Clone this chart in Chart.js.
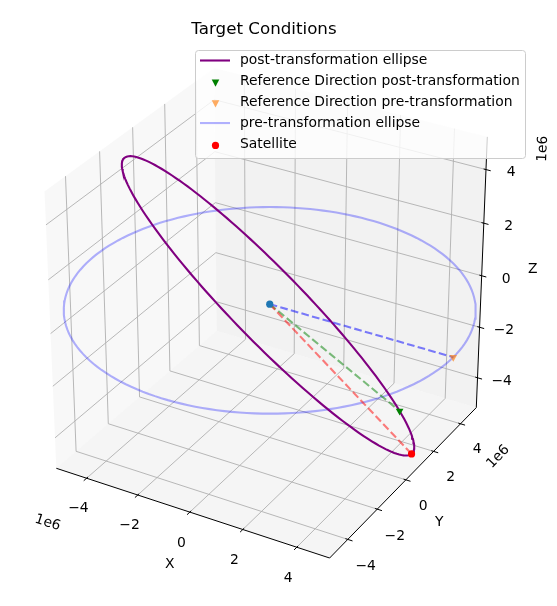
<!DOCTYPE html>
<html>
<head>
<meta charset="utf-8">
<title>Target Conditions</title>
<script src="https://cdn.jsdelivr.net/npm/chart.js@4.4.1/dist/chart.umd.min.js"></script>
<style>
  html, body { margin: 0; padding: 0; background: #ffffff; }
  #wrap { width: 557px; height: 606px; }
</style>
</head>
<body>
<div id="wrap"><canvas id="orbitChart" width="557" height="606"></canvas></div>
<script>
// ---- values ----
const chartTitle = 'Target Conditions';
const axisNames = ['X', 'Y', 'Z'];
const axisRange = [-5.2e6, 5.2e6];          // drawn box, same on X, Y and Z
const tickValues = [-4e6, -2e6, 0, 2e6, 4e6];
const tickLabels = ['−4', '−2', '0', '2', '4'];
const offsetLabel = '1e6';

const orbitRadius = 6.778e6;                // both ellipses (m)
const preOrbit = [0, 0];                    // [inclination, RAAN] (deg)
const postOrbit = [47, 135.5];              // [inclination, RAAN] (deg)

const centerPoint = [0, 0, 0];
const preRefArg = 0;                        // argument of latitude of each marker (deg)
const postRefArg = 270.5;
const satelliteArg = 233;

const legendLabels = [
    'post-transformation ellipse',
    'Reference Direction post-transformation',
    'Reference Direction pre-transformation',
    'pre-transformation ellipse',
    'Satellite'
];

// ---- matplotlib-like 3D camera (elev 30, azim -60, perspective, cube box) ----
const DEG = Math.PI / 180;
const dot = (a, b) => a[0] * b[0] + a[1] * b[1] + a[2] * b[2];
const cross = (a, b) => [a[1] * b[2] - a[2] * b[1], a[2] * b[0] - a[0] * b[2], a[0] * b[1] - a[1] * b[0]];
const unit = a => { const l = Math.hypot(a[0], a[1], a[2]); return a.map(c => c / l); };

const viewW = [Math.cos(30 * DEG) * Math.cos(-60 * DEG), Math.cos(30 * DEG) * Math.sin(-60 * DEG), Math.sin(30 * DEG)];
const viewU = unit(cross([0, 0, 1], viewW));
const viewV = cross(viewW, viewU);
const boxHalf = 0.5281;
const viewDist = 10;

// 2D window of the projection that fills the canvas
const xWindow = [-0.08883, 0.09470];
const yWindow = [-0.09944, 0.10023];

function project(p) {
    const q = p.map(c => c / axisRange[1] * boxHalf);
    const d = viewDist - dot(viewW, q);
    return { x: dot(viewU, q) / d, y: dot(viewV, q) / d };
}

function orbitPoint(orbit, argDeg) {
    const inc = orbit[0] * DEG, raan = orbit[1] * DEG, t = argDeg * DEG;
    const e1 = [Math.cos(raan), Math.sin(raan), 0];
    const e2 = [-Math.cos(inc) * Math.sin(raan), Math.cos(inc) * Math.cos(raan), Math.sin(inc)];
    return [0, 1, 2].map(k => orbitRadius * (Math.cos(t) * e1[k] + Math.sin(t) * e2[k]));
}

const anomalies = [];
for (let a = 0; a <= 360; a += 2) anomalies.push(a);

const prePts = anomalies.map(a => project(orbitPoint(preOrbit, a)));
const postPts = anomalies.map(a => project(orbitPoint(postOrbit, a)));
const preRef = orbitPoint(preOrbit, preRefArg);
const postRef = orbitPoint(postOrbit, postRefArg);
const satellite = orbitPoint(postOrbit, satelliteArg);

const lo = axisRange[0], hi = axisRange[1];
const tickDelta = (hi - lo) / 12;

// ---- box, panes, grid, axis lines, ticks ----
function toPx(chart, p) {
    const s = project(p);
    return [chart.scales.x.getPixelForValue(s.x), chart.scales.y.getPixelForValue(s.y)];
}

function strokePath(ctx, chart, pts, color, width, fill) {
    ctx.beginPath();
    pts.forEach((p, k) => {
        const [px, py] = toPx(chart, p);
        if (k === 0) ctx.moveTo(px, py); else ctx.lineTo(px, py);
    });
    if (fill) {
        ctx.closePath();
        ctx.fillStyle = fill;
        ctx.fill();
    }
    if (color) {
        ctx.strokeStyle = color;
        ctx.lineWidth = width;
        ctx.stroke();
    }
}

const box3d = {
    id: 'box3d',
    beforeDatasetsDraw(chart) {
        const ctx = chart.ctx;
        ctx.save();
        // panes: x = min, y = max, z = min
        strokePath(ctx, chart, [[lo, lo, lo], [lo, hi, lo], [lo, hi, hi], [lo, lo, hi]], null, 0, 'rgba(242,242,242,0.5)');
        strokePath(ctx, chart, [[lo, hi, lo], [hi, hi, lo], [hi, hi, hi], [lo, hi, hi]], null, 0, 'rgba(230,230,230,0.5)');
        strokePath(ctx, chart, [[lo, lo, lo], [hi, lo, lo], [hi, hi, lo], [lo, hi, lo]], null, 0, 'rgba(236,236,236,0.5)');

        // grid lines
        const grid = 'rgb(176,176,176)';
        tickValues.forEach(t => {
            strokePath(ctx, chart, [[t, hi, hi], [t, hi, lo], [t, lo, lo]], grid, 0.9);
            strokePath(ctx, chart, [[lo, t, hi], [lo, t, lo], [hi, t, lo]], grid, 0.9);
            strokePath(ctx, chart, [[hi, hi, t], [lo, hi, t], [lo, lo, t]], grid, 0.9);
        });

        // axis lines
        strokePath(ctx, chart, [[lo, lo, lo], [hi, lo, lo]], '#000', 1);
        strokePath(ctx, chart, [[hi, lo, lo], [hi, hi, lo]], '#000', 1);
        strokePath(ctx, chart, [[hi, hi, lo], [hi, hi, hi]], '#000', 1);

        // tick marks
        const tin = 0.1 * tickDelta, tout = 0.2 * tickDelta;
        tickValues.forEach(t => {
            strokePath(ctx, chart, [[t, lo + tin, lo], [t, lo - tout, lo]], '#000', 1);
            strokePath(ctx, chart, [[hi - tin, t, lo], [hi + tout, t, lo]], '#000', 1);
            strokePath(ctx, chart, [[hi - tin, hi, t], [hi + tout, hi, t]], '#000', 1);
        });
        ctx.restore();
    }
};

// ---- texts: ticks, axis names, offsets, title, legend ----
function drawText(ctx, text, x, y, angle) {
    ctx.save();
    ctx.translate(x, y);
    if (angle) ctx.rotate(angle * DEG);
    ctx.fillText(text, 0, 0);
    ctx.restore();
}

function drawMarker(ctx, kind, x, y, color) {
    ctx.fillStyle = color;
    ctx.beginPath();
    if (kind === 'dot') {
        ctx.arc(x, y, 3.6, 0, 2 * Math.PI);
    } else {
        ctx.moveTo(x - 3.8, y - 3.4);
        ctx.lineTo(x + 3.8, y - 3.4);
        ctx.lineTo(x, y + 3.8);
        ctx.closePath();
    }
    ctx.fill();
}

const labels3d = {
    id: 'labels3d',
    afterDraw(chart) {
        const ctx = chart.ctx;
        ctx.save();
        ctx.fillStyle = '#000';
        ctx.font = '13.9px "DejaVu Sans"';
        ctx.textAlign = 'center';
        ctx.textBaseline = 'middle';

        tickValues.forEach((t, k) => {
            let p = toPx(chart, [t, lo - 0.545e6, lo - 0.888e6]);
            drawText(ctx, tickLabels[k], p[0], p[1]);
            p = toPx(chart, [hi + 0.667e6, t, lo - 0.823e6]);
            drawText(ctx, tickLabels[k], p[0], p[1]);
            p = toPx(chart, [hi + 0.809e6, hi + 0.22e6, t]);
            drawText(ctx, tickLabels[k], p[0], p[1]);
        });

        const m = 1.28e6;
        let p = toPx(chart, [0, lo - m, lo - m]);
        drawText(ctx, axisNames[0], p[0], p[1]);
        p = toPx(chart, [hi + m, 0, lo - m]);
        drawText(ctx, axisNames[1], p[0], p[1]);
        p = toPx(chart, [hi + m, hi + m, 0]);
        drawText(ctx, axisNames[2], p[0], p[1]);

        p = toPx(chart, [lo + 0.45e6, lo - m, lo - m]);
        drawText(ctx, offsetLabel, p[0], p[1], 18);
        p = toPx(chart, [hi + m, hi - 0.8e6, lo - 1.15e6]);
        drawText(ctx, offsetLabel, p[0], p[1], -46);
        p = toPx(chart, [hi + m, hi + m, hi - 0.6e6]);
        drawText(ctx, offsetLabel, p[0] + 4, p[1] + 2, -87.5);

        // title
        ctx.font = '16.7px "DejaVu Sans"';
        ctx.textBaseline = 'alphabetic';
        ctx.fillText(chartTitle, 264, 34);

        // legend
        const lx = 195, ly = 50, lw = 330, lh = 108;
        ctx.beginPath();
        ctx.roundRect(lx + 0.5, ly + 0.5, lw, lh, 3);
        ctx.fillStyle = 'rgba(255,255,255,0.8)';
        ctx.fill();
        ctx.strokeStyle = '#cccccc';
        ctx.lineWidth = 1;
        ctx.stroke();

        const handles = [
            ['line', 'purple'],
            ['tri', 'green'],
            ['tri', 'rgba(255,127,14,0.65)'],
            ['line', 'rgba(0,0,255,0.3)'],
            ['dot', 'red']
        ];
        ctx.font = '13.9px "DejaVu Sans"';
        ctx.textAlign = 'left';
        ctx.textBaseline = 'middle';
        legendLabels.forEach((text, k) => {
            const cy = 60.5 + k * 20.85;
            const [kind, color] = handles[k];
            if (kind === 'line') {
                ctx.beginPath();
                ctx.moveTo(200, cy);
                ctx.lineTo(230, cy);
                ctx.strokeStyle = color;
                ctx.lineWidth = 2.1;
                ctx.stroke();
            } else {
                drawMarker(ctx, kind, 215.5, cy + 1.5, color);
            }
            ctx.fillStyle = '#000';
            ctx.fillText(text, 240, cy);
        });
        ctx.restore();
    }
};

// ---- chart ----
const pt = p => project(p);
const dashed = [7.7, 3.3];

new Chart(document.getElementById('orbitChart').getContext('2d'), {
    type: 'scatter',
    data: {
        datasets: [
            {   // first dataset is drawn on top
                label: 'Satellite',
                data: [pt(satellite)],
                pointStyle: 'circle',
                pointRadius: 3.6,
                borderWidth: 0,
                backgroundColor: 'red'
            },
            {
                label: 'Reference Direction post-transformation',
                data: [pt(postRef)],
                pointStyle: 'triangle',
                rotation: 180,
                pointRadius: 4.4,
                borderWidth: 0,
                backgroundColor: 'green'
            },
            {
                label: 'Reference Direction pre-transformation',
                data: [pt(preRef)],
                pointStyle: 'triangle',
                rotation: 180,
                pointRadius: 4.4,
                borderWidth: 0,
                backgroundColor: 'rgba(255,127,14,0.65)'
            },
            {
                label: 'center',
                data: [pt(centerPoint)],
                pointStyle: 'circle',
                pointRadius: 3.6,
                borderWidth: 0,
                backgroundColor: '#1f77b4'
            },
            {
                label: 'to satellite',
                data: [pt(centerPoint), pt(satellite)],
                showLine: true,
                borderColor: 'rgba(255,0,0,0.5)',
                borderDash: dashed,
                borderWidth: 2.1,
                pointRadius: 0
            },
            {
                label: 'to post reference',
                data: [pt(centerPoint), pt(postRef)],
                showLine: true,
                borderColor: 'rgba(0,128,0,0.5)',
                borderDash: dashed,
                borderWidth: 2.1,
                pointRadius: 0
            },
            {
                label: 'to pre reference',
                data: [pt(centerPoint), pt(preRef)],
                showLine: true,
                borderColor: 'rgba(0,0,255,0.5)',
                borderDash: dashed,
                borderWidth: 2.1,
                pointRadius: 0
            },
            {
                label: 'post-transformation ellipse',
                data: postPts,
                showLine: true,
                borderColor: 'purple',
                borderWidth: 2.1,
                pointRadius: 0
            },
            {
                label: 'pre-transformation ellipse',
                data: prePts,
                showLine: true,
                borderColor: 'rgba(0,0,255,0.3)',
                borderWidth: 2.1,
                pointRadius: 0
            }
        ]
    },
    options: {
        responsive: false,
        animation: false,
        events: [],
        layout: { padding: 0 },
        scales: {
            x: { type: 'linear', min: xWindow[0], max: xWindow[1], display: false },
            y: { type: 'linear', min: yWindow[0], max: yWindow[1], display: false }
        },
        plugins: {
            legend: { display: false },
            tooltip: { enabled: false },
            title: { display: false }
        }
    },
    plugins: [box3d, labels3d]
});
</script>
</body>
</html>
